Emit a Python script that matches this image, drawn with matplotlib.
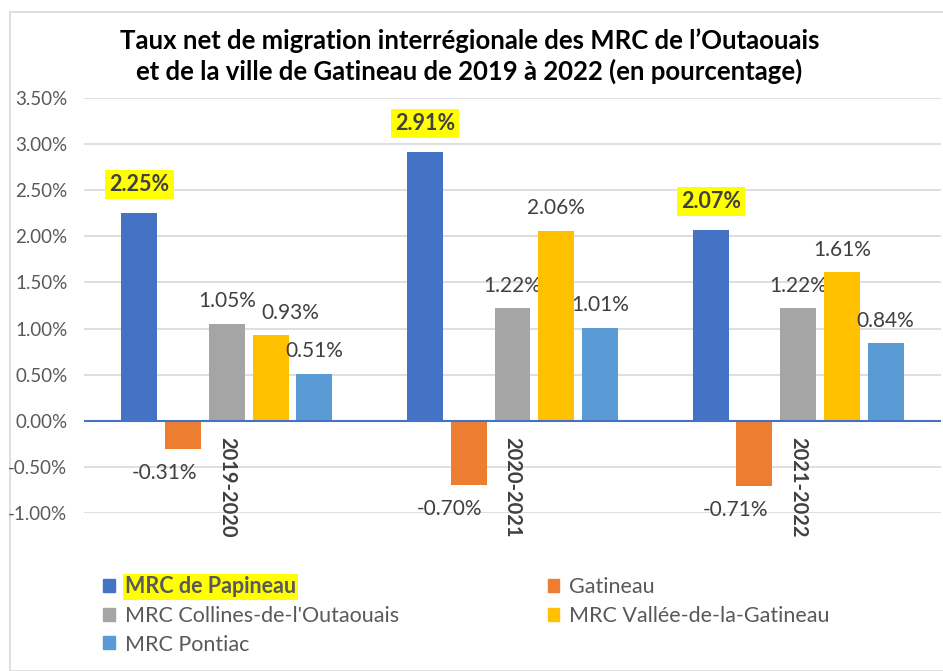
import matplotlib
matplotlib.use('Agg')
import matplotlib.pyplot as plt
from matplotlib.patches import Rectangle, Patch
import numpy as np

FONT = 'Lato'
plt.rcParams['font.family'] = [FONT, 'DejaVu Sans']

# data
periods = ['2019-2020', '2020-2021', '2021-2022']
series = ['MRC de Papineau', 'Gatineau', "MRC Collines-de-l'Outaouais",
          'MRC Vallée-de-la-Gatineau', 'MRC Pontiac']
papineau = [2.25, 2.91, 2.07]
gatineau = [-0.31, -0.70, -0.71]
collines = [1.05, 1.22, 1.22]
vallee = [0.93, 2.06, 1.61]
pontiac = [0.51, 1.01, 0.84]
yticks = [-1.0, -0.5, 0.0, 0.5, 1.0, 1.5, 2.0, 2.5, 3.0, 3.5]

colors = ['#4472C4', '#ED7D31', '#A5A5A5', '#FFC000', '#5B9BD5']
TXT = '#404040'

# labels excel moved sideways to avoid a clash (series index, period index) -> points
label_nudge = {(3, 0): 14}

fig = plt.figure(figsize=(9.43, 6.71), dpi=100)
W, H = 943, 671

#chart border like the excel chart area
fig.patches.append(Rectangle((10 / W, 0), 1, 1 - 12 / H, transform=fig.transFigure,
                             facecolor='white', edgecolor='#d9d9d9', lw=1.2, zorder=-10))

ax = fig.add_axes([84 / W, 1 - 513 / H, 857 / W, (513 - 98) / H])
ax.set_facecolor('none')

x = np.arange(len(periods))
step = 0.153
width = 0.126
all_vals = [papineau, gatineau, collines, vallee, pontiac]
for k, vals in enumerate(all_vals):
    pos = x + (k - 2) * step
    ax.bar(pos, vals, width, color=colors[k], zorder=3)
    for j, (xi, v) in enumerate(zip(pos, vals)):
        label = f"{v:.2f}%"
        dx = label_nudge.get((k, j), 0)
        if v < 0:
            # negative labels sit under the bar, flush with its right edge
            ax.annotate(label, (xi + width / 2, v), xytext=(-3, -17), textcoords='offset points',
                        ha='right', va='center', fontsize=15, color=TXT)
        elif k == 0:
            ax.annotate(label, (xi, v), xytext=(dx, 13), textcoords='offset points',
                        ha='center', va='bottom', fontsize=15.5, color=TXT, fontweight='bold',
                        bbox=dict(facecolor='#FFFF00', edgecolor='none', pad=3))
        else:
            ax.annotate(label, (xi, v), xytext=(dx, 9), textcoords='offset points',
                        ha='center', va='bottom', fontsize=15, color=TXT)

# category labels, rotated, just below the zero line
for xi, p in zip(x, periods):
    ax.annotate(p, (xi, 0), xytext=(0, -12), textcoords='offset points', rotation=-90,
                ha='center', va='top', fontsize=14.5, fontweight='bold', color=TXT)

ax.set_xlim(-0.5, 2.5)
ax.set_ylim(-1.0, 3.5)
ax.set_yticks(yticks)
ax.set_yticklabels([f"{v:.2f}%" for v in yticks])
ax.set_xticks([])
ax.tick_params(axis='y', length=0, pad=12, labelsize=13.5, labelcolor='#595959')
ax.yaxis.grid(True, color='#d9d9d9', lw=1.2, zorder=0)
ax.axhline(0, color='#4472C4', lw=1.5, zorder=4)
for s in ax.spines.values():
    s.set_visible(False)

fig.text(0.498, 1 - 56 / H,
         "Taux net de migration interrégionale des MRC de l\u2019Outaouais\n"
         "et de la ville de Gatineau de 2019 à 2022 (en pourcentage)",
         ha='center', va='center', fontsize=18.5, fontweight='bold', color='black',
         linespacing=1.3)

# legend, row-major order with 2 columns
order = [0, 2, 4, 1, 3]
proxies = [Patch(color=colors[i]) for i in order]
leg = fig.legend(proxies, [series[i] for i in order], ncol=2, frameon=False,
                 loc='upper left', bbox_to_anchor=(84 / W, 1 - 557 / H),
                 fontsize=15.5, handlelength=0.55, handleheight=0.55, handletextpad=0.45,
                 columnspacing=6.9, labelspacing=0.4)
for t in leg.get_texts():
    t.set_color('#595959')
t0 = leg.get_texts()[0]
t0.set_fontweight('bold')
t0.set_bbox(dict(facecolor='#FFFF00', edgecolor='none', pad=1.5))

fig.savefig('out.png', dpi=100)
